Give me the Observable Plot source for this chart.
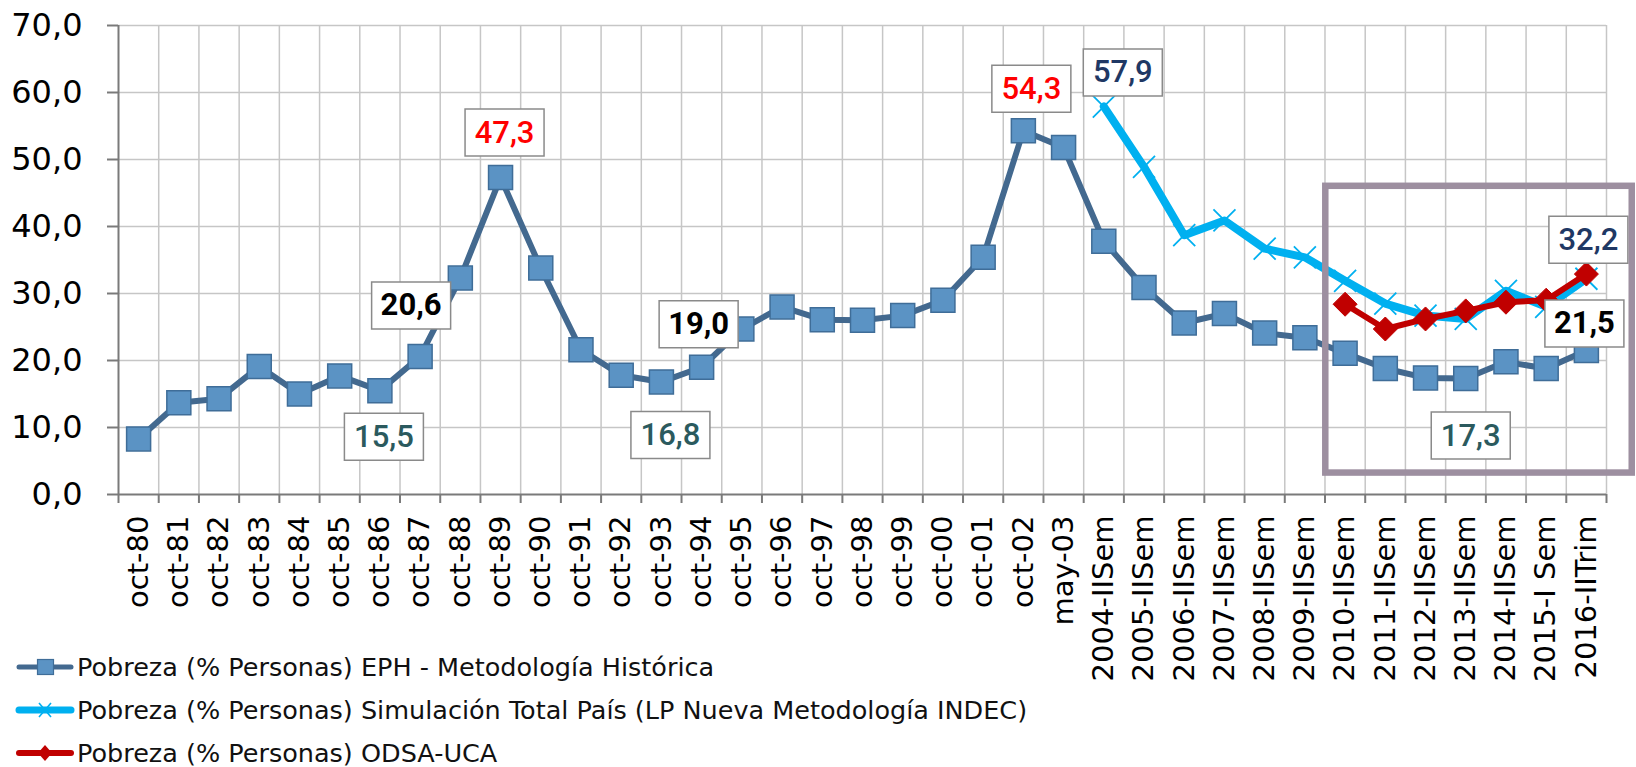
<!DOCTYPE html>
<html><head><meta charset="utf-8">
<script src="https://cdn.jsdelivr.net/npm/d3@7"></script>
<script src="https://cdn.jsdelivr.net/npm/@observablehq/plot@0.6"></script>
<style>
html,body{margin:0;padding:0;background:#fff;}
#wrap{position:relative;width:1636px;height:767px;overflow:hidden;}
#legend{position:absolute;left:0;top:0;font-family:"DejaVu Sans",sans-serif;font-size:25.5px;color:#111;}
.row{position:absolute;left:0;height:40px;display:flex;align-items:center;white-space:nowrap;}
.row svg{display:block;flex:none;}
</style></head><body>
<div id="wrap"><div id="chart"></div><div id="legend"></div></div>
<script>
// ---- data ----
const categories = ["oct-80","oct-81","oct-82","oct-83","oct-84","oct-85","oct-86","oct-87","oct-88","oct-89",
  "oct-90","oct-91","oct-92","oct-93","oct-94","oct-95","oct-96","oct-97","oct-98","oct-99",
  "oct-00","oct-01","oct-02","may-03","2004-IISem","2005-IISem","2006-IISem","2007-IISem","2008-IISem",
  "2009-IISem","2010-IISem","2011-IISem","2012-IISem","2013-IISem","2014-IISem","2015-I Sem","2016-IITrim"];
const ephValues = [8.3,13.7,14.3,19.1,15.0,17.7,15.5,20.6,32.3,47.3,33.8,21.6,17.8,16.8,19.0,24.7,28.0,26.1,26.0,26.7,
  29.0,35.4,54.3,51.8,37.8,30.9,25.6,27.0,24.1,23.4,21.1,18.8,17.4,17.3,19.8,18.8,21.5];
// from 2004-IISem to 2016-IITrim
const simValues = [57.9,48.9,38.7,40.9,36.7,35.4,31.9,28.5,26.7,26.2,30.4,28.0,32.2];
// from 2010-IISem to 2016-IITrim
const odsaValues = [28.4,24.7,26.2,27.4,28.7,29.0,32.9];
const seriesKeys = ["eph","sim","odsa"];
const seriesNames = ["Pobreza (% Personas) EPH - Metodología Histórica",
  "Pobreza (% Personas) Simulación Total País (LP Nueva Metodología INDEC)",
  "Pobreza (% Personas) ODSA-UCA"];
const yTicks = [0,10,20,30,40,50,60,70];
const labelPoints = [
  {category:"oct-86", series:"eph", kind:"min"},
  {category:"oct-87", series:"eph", kind:"ref"},
  {category:"oct-89", series:"eph", kind:"max"},
  {category:"oct-93", series:"eph", kind:"min"},
  {category:"oct-94", series:"eph", kind:"ref"},
  {category:"oct-02", series:"eph", kind:"max"},
  {category:"2004-IISem", series:"sim", kind:"sim"},
  {category:"2016-IITrim", series:"sim", kind:"sim"},
  {category:"2016-IITrim", series:"eph", kind:"ref"},
  {category:"2013-IISem", series:"eph", kind:"min"}
];
const highlight = {from:"2010-IISem", to:"2016-IITrim", low:3.2, high:46.0};

// ---- styling / placement ----
const labelOffsets = {
  "oct-86|eph":[4,46], "oct-87|eph":[-9,-51], "oct-89|eph":[4,-45], "oct-93|eph":[9,53],
  "oct-94|eph":[-3,-43], "oct-02|eph":[8,-42], "2004-IISem|sim":[19,-34], "2016-IITrim|sim":[2,-39],
  "2016-IITrim|eph":[-2,-27], "2013-IISem|eph":[5,57]
};
const kindStyle = {max:{fill:"#ff0000",w:500}, min:{fill:"#2b5a5e",w:500}, ref:{fill:"#000000",w:700}, sim:{fill:"#1f3864",w:500}};

const idx = new Map(categories.map((c,i)=>[c,i]));
const ephData = ephValues.map((v,i)=>({i, v}));
const simStart = categories.length - simValues.length;
const simData = simValues.map((v,k)=>({i: simStart+k, v}));
const odsaStart = categories.length - odsaValues.length;
const odsaData = odsaValues.map((v,k)=>({i: odsaStart+k, v}));
const bySeries = {eph: ephData, sim: simData, odsa: odsaData};

const squareSym = {draw(ctx,size){const r=Math.sqrt(size/Math.PI); ctx.rect(-r,-r,2*r,2*r);}};
const diamondSym = {draw(ctx,size){const r=Math.sqrt(size/Math.PI); ctx.moveTo(0,-r);ctx.lineTo(r,0);ctx.lineTo(0,r);ctx.lineTo(-r,0);ctx.closePath();}};
const crossSym = {draw(ctx,size){const r=Math.sqrt(size/Math.PI); ctx.moveTo(-r,-r);ctx.lineTo(r,r);ctx.moveTo(r,-r);ctx.lineTo(-r,r);}};
const boxSym = {draw(ctx){ctx.rect(-39.5,-23.5,79,47);}};

const fmt = v => v.toFixed(1).replace(".", ",");
const boundaries = d3.range(categories.length).map(i => i + 0.5);

const labelMarks = [];
for (const p of labelPoints) {
  const d = bySeries[p.series].find(e => e.i === idx.get(p.category));
  const [dx, dy] = labelOffsets[p.category + "|" + p.series];
  const st = kindStyle[p.kind];
  labelMarks.push(Plot.dot([d], {x:"i", y:"v", dx, dy, symbol: boxSym, r: 10, fill:"#fff", stroke:"#8a8a8a", strokeWidth:1.5}));
  labelMarks.push(Plot.text([d], {x:"i", y:"v", dx, dy, text: e => fmt(e.v), fill: st.fill, fontWeight: st.w, fontSize: 31, fontFamily: "Roboto"}));
}

const chart = Plot.plot({
  width: 1636, height: 767,
  marginLeft: 118, marginRight: 30, marginTop: 25, marginBottom: 273,
  style: {fontFamily: "DejaVu Sans", background: "#fff", overflow: "visible"},
  x: {type: "linear", domain: [-0.5, categories.length - 0.5]},
  y: {domain: [0, 70]},
  marks: [
    Plot.ruleY(yTicks.filter(t => t > 0), {stroke: "#c6c6c6", strokeWidth: 1.5, strokeOpacity: 1}),
    Plot.ruleX(boundaries, {stroke: "#c6c6c6", strokeWidth: 1.5, strokeOpacity: 1}),
    Plot.ruleX([-0.5], {stroke: "#7a7a7a", strokeWidth: 2}),
    Plot.ruleY([0], {stroke: "#7a7a7a", strokeWidth: 2}),
    Plot.axisY({ticks: yTicks, tickSize: 11, tickPadding: 25, tickFormat: fmt, fontSize: 32, stroke: "#7a7a7a", strokeWidth: 2, fill: "#000", label: null}),
    Plot.axisX({ticks: [-0.5, ...boundaries], tickSize: 9, tickFormat: () => "", stroke: "#7a7a7a", strokeWidth: 2, label: null}),
    Plot.axisX({ticks: d3.range(categories.length), tickSize: 0, tickPadding: 21, tickRotate: -90, tickFormat: i => categories[i], fontSize: 29, fill: "#000", label: null}),
    Plot.lineY(ephData, {x: "i", y: "v", stroke: "#43698f", strokeWidth: 6}),
    Plot.dot(ephData, {x: "i", y: "v", symbol: squareSym, r: 12, fill: "#5b93c4", stroke: "#3f6d98", strokeWidth: 1.5}),
    Plot.lineY(simData, {x: "i", y: "v", stroke: "#00b0f0", strokeWidth: 8}),
    Plot.dot(simData, {x: "i", y: "v", symbol: crossSym, r: 11, fill: "none", stroke: "#00b0f0", strokeWidth: 1.8}),
    Plot.lineY(odsaData, {x: "i", y: "v", stroke: "#c00000", strokeWidth: 6}),
    Plot.dot(odsaData, {x: "i", y: "v", symbol: diamondSym, r: 12, fill: "#c00000", stroke: "#c00000", strokeWidth: 1}),
    ...labelMarks,
    Plot.rect([highlight], {x1: d => idx.get(d.from) - 0.48, x2: d => idx.get(d.to) + 1.14, y1: "low", y2: "high", fill: "none", stroke: "#9d8fa0", strokeWidth: 6.5})
  ]
});
document.getElementById("chart").appendChild(chart);

// ---- legend ----
const legendStyle = {
  eph: {stroke:"#43698f", width:5, marker:"square"},
  sim: {stroke:"#00b0f0", width:7, marker:"cross"},
  odsa: {stroke:"#c00000", width:6, marker:"diamond"}
};
const legendCenters = [667, 710, 753];
const legend = document.getElementById("legend");
seriesKeys.forEach((k, j) => {
  const row = document.createElement("div");
  row.className = "row";
  row.style.top = (legendCenters[j] - 20) + "px";
  const s = legendStyle[k];
  let marker = "";
  if (s.marker === "square") marker = `<rect x="37.5" y="12.5" width="16" height="15" fill="#5b93c4" stroke="#3f6d98" stroke-width="1.2"/>`;
  if (s.marker === "cross") marker = `<path d="M39 13L51 27M51 13L39 27" stroke="#00b0f0" stroke-width="1.6" fill="none"/>`;
  if (s.marker === "diamond") marker = `<path d="M45 12L52 20L45 28L38 20Z" fill="#c00000"/>`;
  row.innerHTML = `<svg width="77" height="40"><line x1="19" x2="71" y1="20" y2="20" stroke="${s.stroke}" stroke-width="${s.width}" stroke-linecap="round"/>${marker}</svg><span>${seriesNames[j]}</span>`;
  legend.appendChild(row);
});
</script>
</body></html>
